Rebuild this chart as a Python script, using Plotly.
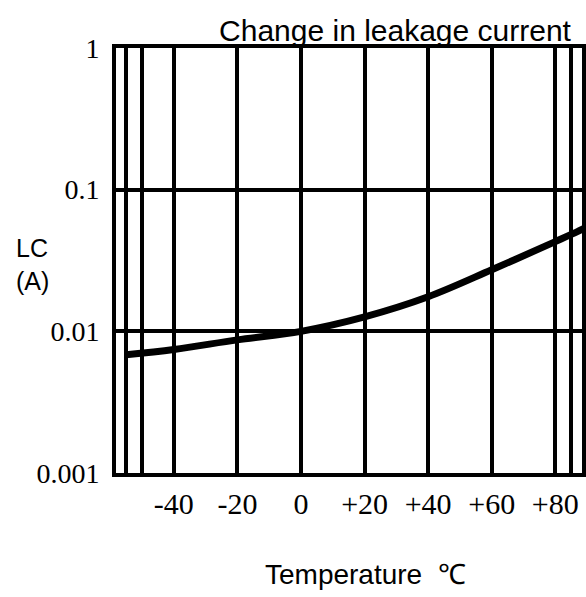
import plotly.graph_objects as go

# Data
temps = [-55, -40, -20, 0, 20, 40, 60, 80, 85, 90]
lc = [0.00684, 0.00745, 0.0087, 0.0100, 0.01265, 0.01754, 0.0272, 0.0430, 0.0483, 0.0547]

grid_x = [-55, -50, -40, -20, 0, 20, 40, 60, 80, 85]
grid_x_text = ["", "", "-40", "-20", "0", "+20", "+40", "+60", "+80", ""]
grid_y = [0.001, 0.01, 0.1, 1]
grid_y_text = ["0.001", "0.01", "0.1", "1"]

sans = "Liberation Sans, Arial, sans-serif"
serif = "Liberation Serif, Times New Roman, serif"

W, H = 586, 597
L, R, T, B = 116, 0, 48, 124
PW, PH = W - L - R, H - T - B

fig = go.Figure()
fig.add_trace(go.Scatter(
    x=temps, y=lc, mode="lines",
    line=dict(color="black", width=7, shape="spline", smoothing=1.0),
    showlegend=False, hoverinfo="skip", cliponaxis=True,
))

fig.update_layout(
    width=W, height=H,
    margin=dict(l=L, r=R, t=T, b=B),
    paper_bgcolor="white", plot_bgcolor="white",
    title=dict(text="Change in leakage current", x=395/W, xanchor="center",
               y=1-30/H, yanchor="middle",
               font=dict(family=sans, size=30, color="black")),
    xaxis=dict(range=[-58.2, 88.4], tickvals=grid_x, ticktext=grid_x_text,
               showgrid=True, gridcolor="black", gridwidth=4,
               showline=True, linecolor="black", linewidth=4, mirror=True,
               zeroline=False, ticks="outside", ticklen=1, tickcolor="rgba(0,0,0,0)",
               tickfont=dict(family=serif, size=30, color="black")),
    yaxis=dict(type="log", range=[-3, 0], tickvals=grid_y, ticktext=grid_y_text,
               showgrid=True, gridcolor="black", gridwidth=4,
               showline=True, linecolor="black", linewidth=4, mirror=True,
               zeroline=False, ticks="outside", ticklen=7, tickcolor="rgba(0,0,0,0)",
               tickfont=dict(family=serif, size=28, color="black")),
)

fig.add_annotation(text="LC<br>(A)", xref="paper", yref="paper",
                   x=(13 - L) / PW, y=1 - (264 - T) / PH, xanchor="left", yanchor="middle",
                   align="left", showarrow=False,
                   font=dict(family=sans, size=25, color="black"))
fig.add_annotation(text="Temperature  ℃", xref="paper", yref="paper",
                   x=(368 - L) / PW, y=-(574 - (T + PH)) / PH, xanchor="center", yanchor="middle",
                   showarrow=False,
                   font=dict(family=sans, size=28, color="black"))

fig.write_html(
    "out.html",
    config={"displayModeBar": False},
    post_script="document.body.style.margin='0';"
                "document.body.style.overflow='hidden';"
                "document.documentElement.style.overflow='hidden';",
)
